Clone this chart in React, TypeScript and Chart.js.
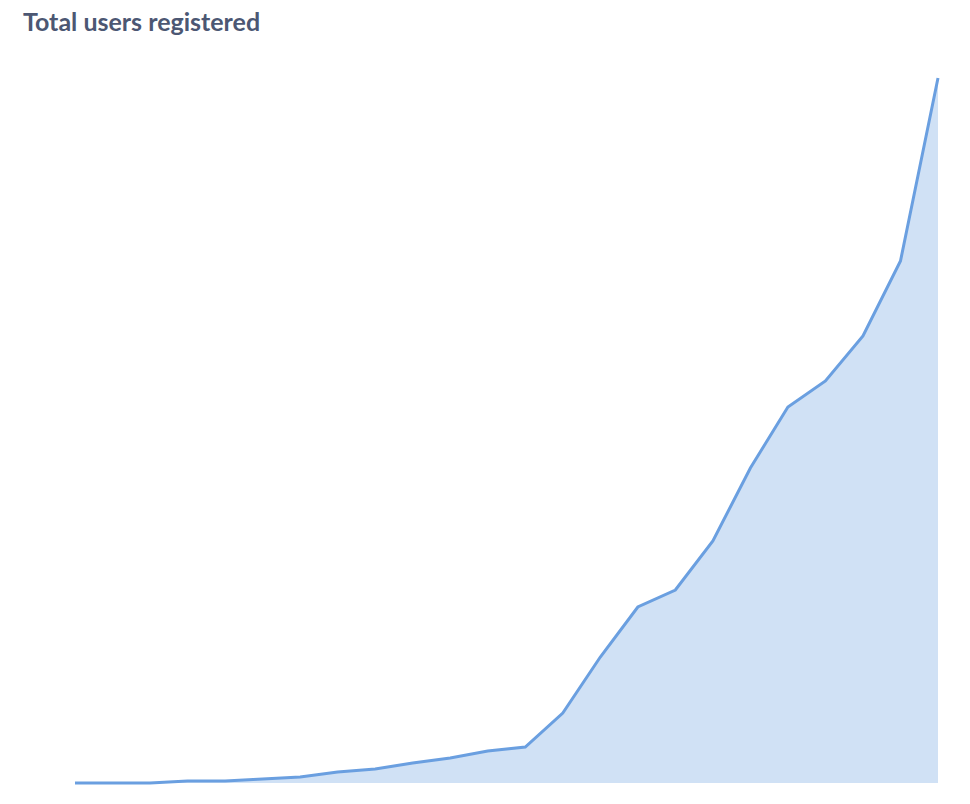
import { useEffect, useRef } from "react";
import { Chart, registerables } from "chart.js";

Chart.register(...registerables);

// one point per period (cumulative total)
const periods = [
  "P1", "P2", "P3", "P4", "P5", "P6", "P7", "P8", "P9", "P10", "P11", "P12",
  "P13", "P14", "P15", "P16", "P17", "P18", "P19", "P20", "P21", "P22", "P23", "P24",
];
const totalUsers = [
  0, 0, 0, 2, 2, 4, 6, 11, 14, 20, 25, 32,
  36, 70, 126, 176, 193, 242, 315, 376, 402, 447, 522, 705,
];

const LINE = "#6a9fe0";
const FILL = "#d0e1f5";
const PAD = 4;

export default function App() {
  const canvasRef = useRef<HTMLCanvasElement>(null);

  useEffect(() => {
    document.body.style.margin = "0";
    if (!canvasRef.current) return;

    const chart = new Chart(canvasRef.current, {
      type: "line",
      data: {
        labels: periods,
        datasets: [
          {
            data: totalUsers,
            borderColor: LINE,
            backgroundColor: FILL,
            fill: "origin",
            tension: 0,
            pointRadius: 0,
            borderWidth: 3,
            clip: false,
          },
        ],
      },
      options: {
        animation: false,
        responsive: false,
        maintainAspectRatio: false,
        layout: { padding: PAD },
        plugins: { legend: { display: false }, tooltip: { enabled: false } },
        scales: {
          x: { display: false, offset: false },
          y: { display: false, min: 0, max: Math.max(...totalUsers) },
        },
      },
    });

    return () => chart.destroy();
  }, []);

  return (
    <div style={{ position: "relative", width: 970, height: 804, background: "#fff" }}>
      <div
        style={{
          position: "absolute",
          left: 23,
          top: 6,
          fontFamily: "Lato, sans-serif",
          fontWeight: 700,
          fontSize: 25,
          lineHeight: 1.2,
          color: "#4c5773",
        }}
      >
        Total users registered
      </div>
      <canvas
        ref={canvasRef}
        width={863 + PAD * 2}
        height={705 + PAD * 2}
        style={{ position: "absolute", left: 75 - PAD, top: 78 - PAD, width: 863 + PAD * 2, height: 705 + PAD * 2 }}
      />
    </div>
  );
}
